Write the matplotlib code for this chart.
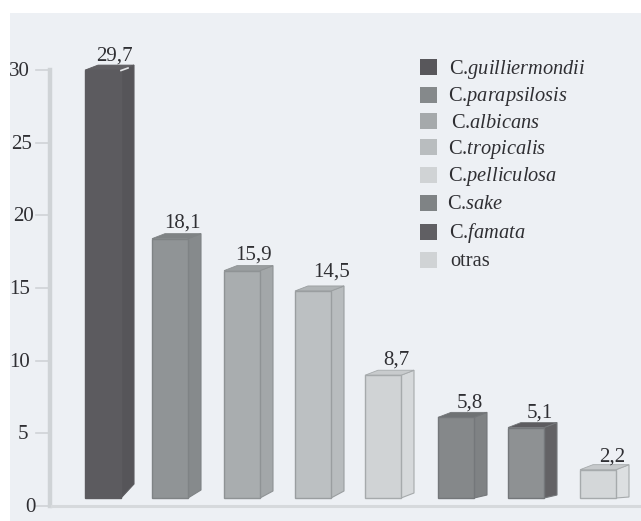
# -*- coding: utf-8 -*-
import matplotlib
matplotlib.use("Agg")
import matplotlib.pyplot as plt
from matplotlib.patches import Polygon, Rectangle

W, H = 641, 521

names = ["guilliermondii", "parapsilosis", "albicans", "tropicalis",
         "pelliculosa", "sake", "famata"]
other = "otras"
values = [29.7, 18.1, 15.9, 14.5, 8.7, 5.8, 5.1, 2.2]
value_labels = ["29,7", "18,1", "15,9", "14,5", "8,7", "5,8", "5,1", "2,2"]
yticks = [0, 5, 10, 15, 20, 25, 30]

front = ["#5c5b5f", "#909496", "#a9adaf", "#bcc0c2", "#d0d3d5", "#85888a", "#8e9193", "#d4d7d9"]
side = ["#565559", "#868a8c", "#a3a7a9", "#b8bcbe", "#d6d9db", "#7f8284", "#636265", "#dcdfe1"]
top = ["#626165", "#7f8385", "#9a9ea0", "#b0b4b6", "#c8cbcd", "#6f7274", "#5d5c60", "#c6c9cb"]
edge = ["#5c5b5f", "#7f8385", "#8f9395", "#9a9ea0", "#a6aaac", "#74777a", "#74777a", "#a6aaac"]
swatch = ["#58575b", "#85898b", "#a5a9ab", "#b9bdbf", "#d0d3d5", "#7f8385", "#605f63", "#d0d3d5"]

# layout in pixels
bar_left = [85, 152, 224, 295, 365, 438, 508, 580]
bar_w = 36
depth_x, depth_y = 13, 5
side_rise = [14, 8, 7, 7, 5, 3, 3, 1]
label_x = [114, 182, 253, 332, 396, 470, 540, 612]
label_y = [56, 223, 255, 272, 360.5, 403, 413, 457]
tick_right = [36, 28, 30, 30, 34, 32, 30]
legend_y = [67, 94.5, 121, 147, 175, 203, 232, 260]
text_y = [69, 96, 123, 149, 177, 204, 233, 261]
legend_x = [449, 448, 451, 448, 448, 447, 449, 450]
lift = 0.3       # bars start above the axis line
base = 0.55

plt.rcParams["font.family"] = ["Liberation Serif", "DejaVu Serif"]
plt.rcParams["mathtext.fontset"] = "custom"
plt.rcParams["mathtext.it"] = "Liberation Serif:italic"
plt.rcParams["mathtext.rm"] = "Liberation Serif"

fig = plt.figure(figsize=(W / 100, H / 100), dpi=100)
fig.patch.set_facecolor("white")

# pixel x, data y
y0_px, px_per_unit = 506.0, 14.53
ax = fig.add_axes([0, 0, 1, 1])
ax.set_xlim(0, W)
ax.set_ylim((y0_px - H) / px_per_unit, y0_px / px_per_unit)
ax.axis("off")
dy = depth_y / px_per_unit


def to_y(py):
    return (y0_px - py) / px_per_unit


# pale panel behind the chart
ax.add_patch(Rectangle((10, to_y(H)), W - 10, (H - 13) / px_per_unit,
                       fc="#edf0f4", ec="none", zorder=0))

# axes lines and ticks
ax.plot([50, 50], [0, 30], color="#cfd3d6", lw=3.2, zorder=1, solid_capstyle="projecting")
ax.plot([50, W], [0, 0], color="#d6d9dc", lw=2.2, zorder=1, solid_capstyle="butt")
for i, t in enumerate(yticks):
    ax.plot([36, 50], [t, t], color="#cfd3d6", lw=1.2, zorder=1)
    ax.text(tick_right[i], t - 0.1, str(t), ha="right", va="center", fontsize=15, color="#2f2f33",
            zorder=2)

for i, v in enumerate(values):
    x = bar_left[i]
    y1 = v + lift
    ax.bar(x, y1 - base, bar_w, bottom=base, align="edge", color=front[i],
           edgecolor=edge[i], lw=1, zorder=3)
    r = x + bar_w
    ax.add_patch(Polygon([(r, base), (r + depth_x, base + side_rise[i] / px_per_unit),
                          (r + depth_x, y1 + dy), (r, y1)],
                         fc=side[i], ec=edge[i], lw=0.8, zorder=2))
    ax.add_patch(Polygon([(x, y1), (x + depth_x, y1 + dy), (r + depth_x, y1 + dy), (r, y1)],
                         fc=top[i], ec=edge[i], lw=0.6, zorder=2))
    ax.text(label_x[i], to_y(label_y[i]), value_labels[i], ha="center", va="center",
            fontsize=15, color="#2f2f33", zorder=4)

# small light nick on the top corner of the tallest bar
ax.plot([121, 128], [to_y(70.5), to_y(68)], color="#e4e6e8", lw=1.2, zorder=4)

# legend drawn by hand so the swatches keep their spacing
for i, py in enumerate(legend_y):
    ax.add_patch(Rectangle((420, to_y(py) - 8 / px_per_unit), 17, 16 / px_per_unit,
                           fc=swatch[i], ec="none", zorder=3))
    if i < len(names):
        label = "C." + "$\\mathit{" + names[i] + "}$"
    else:
        label = other
    ax.text(legend_x[i], to_y(text_y[i]), label, ha="left", va="center", fontsize=14.7, color="#2f2f33")

fig.savefig("out.png", dpi=100, facecolor=fig.get_facecolor())
